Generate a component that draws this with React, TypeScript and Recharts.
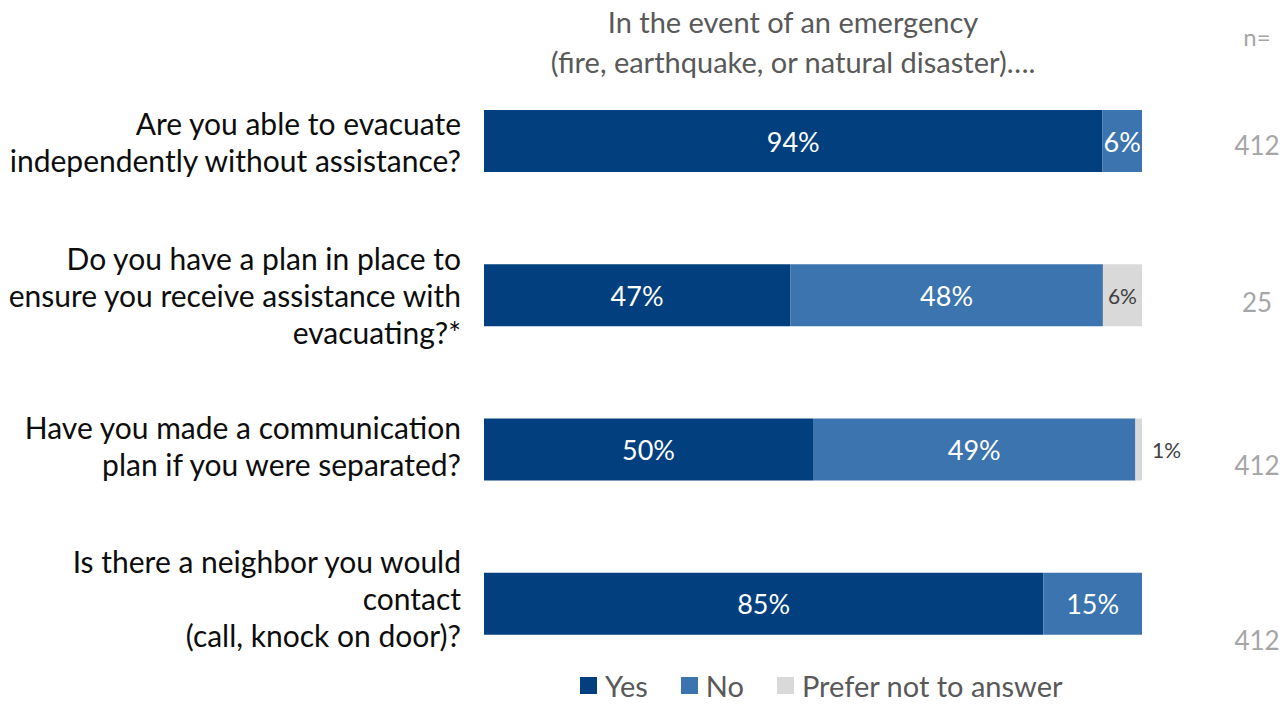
import { ReactElement } from 'react'
import { Bar, BarChart, LabelList, XAxis, YAxis } from 'recharts'

const questions = [
  'Are you able to evacuate\nindependently without assistance?',
  'Do you have a plan in place to\nensure you receive assistance with\nevacuating?*',
  'Have you made a communication\nplan if you were separated?',
  'Is there a neighbor you would\ncontact\n(call, knock on door)?',
]
const yesPct = [94, 47, 50, 85]
const noPct = [6, 48, 49, 15]
const preferPct = [0, 6, 1, 0]
const sampleSizes = [412, 25, 412, 412]
const titleLines = [
  'In the event of an emergency',
  '(fire, earthquake, or natural disaster)….',
]

const data = questions.map((q, i) => ({
  question: q,
  yes: yesPct[i],
  no: noPct[i],
  prefer: preferPct[i],
}))

const FONT = 'Lato, "Open Sans", sans-serif'
const YES = '#023f7e'
const NO = '#3b74ae'
const PREFER = '#d9d9d9'

function QuestionTick(props: any) {
  const { x, y, payload } = props
  const lines: string[] = String(payload.value).split('\n')
  const lh = 37
  const start = -((lines.length - 1) * lh) / 2
  // the text block sits a touch higher than the bar on the lower rows
  const shift = [0, 0, -4, -6][payload.index] ?? 0
  const tx = x - 17
  return (
    <text
      x={tx}
      y={y + start + shift}
      textAnchor="end"
      fill="#0d0d0d"
      fontSize={30}
      fontFamily={FONT}
      dominantBaseline="central"
    >
      {lines.map((line, i) => (
        <tspan key={i} x={tx} dy={i === 0 ? 0 : lh}>
          {line}
        </tspan>
      ))}
    </text>
  )
}

function insideLabel(color: string, size: number) {
  return (props: any) => {
    const { x, y, width, height, value } = props
    if (!value) return null
    return (
      <text
        x={x + width / 2}
        y={y + height / 2}
        textAnchor="middle"
        dominantBaseline="central"
        fill={color}
        fontSize={size}
        fontFamily={FONT}
      >
        {`${value}%`}
      </text>
    )
  }
}

function preferLabel(props: any) {
  const { x, y, width, height, value } = props
  if (!value) return null
  const outside = width < 20
  return (
    <text
      x={outside ? x + width + 10 : x + width / 2}
      y={y + height / 2}
      textAnchor={outside ? 'start' : 'middle'}
      dominantBaseline="central"
      fill="#404040"
      fontSize={21}
      fontFamily={FONT}
    >
      {`${value}%`}
    </text>
  )
}

const legendItems = [
  { name: 'Yes', color: YES },
  { name: 'No', color: NO },
  { name: 'Prefer not to answer', color: PREFER },
]

export default function App(): ReactElement {
  const nTop = [145, 302, 465, 640]
  return (
    <div
      style={{
        position: 'fixed',
        left: 0,
        top: 0,
        width: 1282,
        height: 704,
        background: '#fff',
        fontFamily: FONT,
      }}
    >
      <div
        style={{
          position: 'absolute',
          left: 593,
          width: 400,
          top: 2,
          textAlign: 'center',
          color: '#595959',
          fontSize: 29,
          lineHeight: '40px',
          whiteSpace: 'nowrap',
          display: 'flex',
          flexDirection: 'column',
          alignItems: 'center',
        }}
      >
        {titleLines.map((t) => (
          <div key={t}>{t}</div>
        ))}
      </div>
      <div
        style={{
          position: 'absolute',
          left: 1227,
          width: 60,
          top: 22,
          color: '#a6a6a6',
          fontSize: 24,
          textAlign: 'center',
        }}
      >
        n=
      </div>
      {sampleSizes.map((n, i) => (
        <div
          key={i}
          style={{
            position: 'absolute',
            left: 1220,
            width: 74,
            top: nTop[i] - 17,
            color: '#a6a6a6',
            fontSize: 26,
            textAlign: 'center',
            lineHeight: '34px',
          }}
        >
          {n}
        </div>
      ))}
      <BarChart
        width={1282}
        height={704}
        data={data}
        layout="vertical"
        stackOffset="expand"
        margin={{ top: 64, right: 140, bottom: 23, left: 0 }}
        style={{ position: 'absolute', left: 0, top: 0 }}
      >
        <XAxis type="number" hide domain={[0, 1]} />
        <YAxis
          type="category"
          dataKey="question"
          width={484}
          axisLine={false}
          tickLine={false}
          tickMargin={0}
          tick={<QuestionTick />}
          interval={0}
        />
        <Bar dataKey="yes" stackId="a" fill={YES} barSize={62} isAnimationActive={false}>
          <LabelList dataKey="yes" content={insideLabel('#ffffff', 27)} />
        </Bar>
        <Bar dataKey="no" stackId="a" fill={NO} barSize={62} isAnimationActive={false}>
          <LabelList dataKey="no" content={insideLabel('#ffffff', 27)} />
        </Bar>
        <Bar dataKey="prefer" stackId="a" fill={PREFER} barSize={62} isAnimationActive={false}>
          <LabelList dataKey="prefer" content={preferLabel} />
        </Bar>
      </BarChart>
      <div
        style={{
          position: 'absolute',
          left: 580,
          top: 668,
          height: 35,
          display: 'flex',
          alignItems: 'center',
          color: '#595959',
          fontSize: 29,
          lineHeight: '35px',
        }}
      >
        {legendItems.map((item) => (
          <div
            key={item.name}
            style={{ display: 'flex', alignItems: 'center', marginRight: 33 }}
          >
            <span
              style={{
                width: 17,
                height: 17,
                background: item.color,
                display: 'inline-block',
                marginRight: 8,
              }}
            />
            <span>{item.name}</span>
          </div>
        ))}
      </div>
    </div>
  )
}
